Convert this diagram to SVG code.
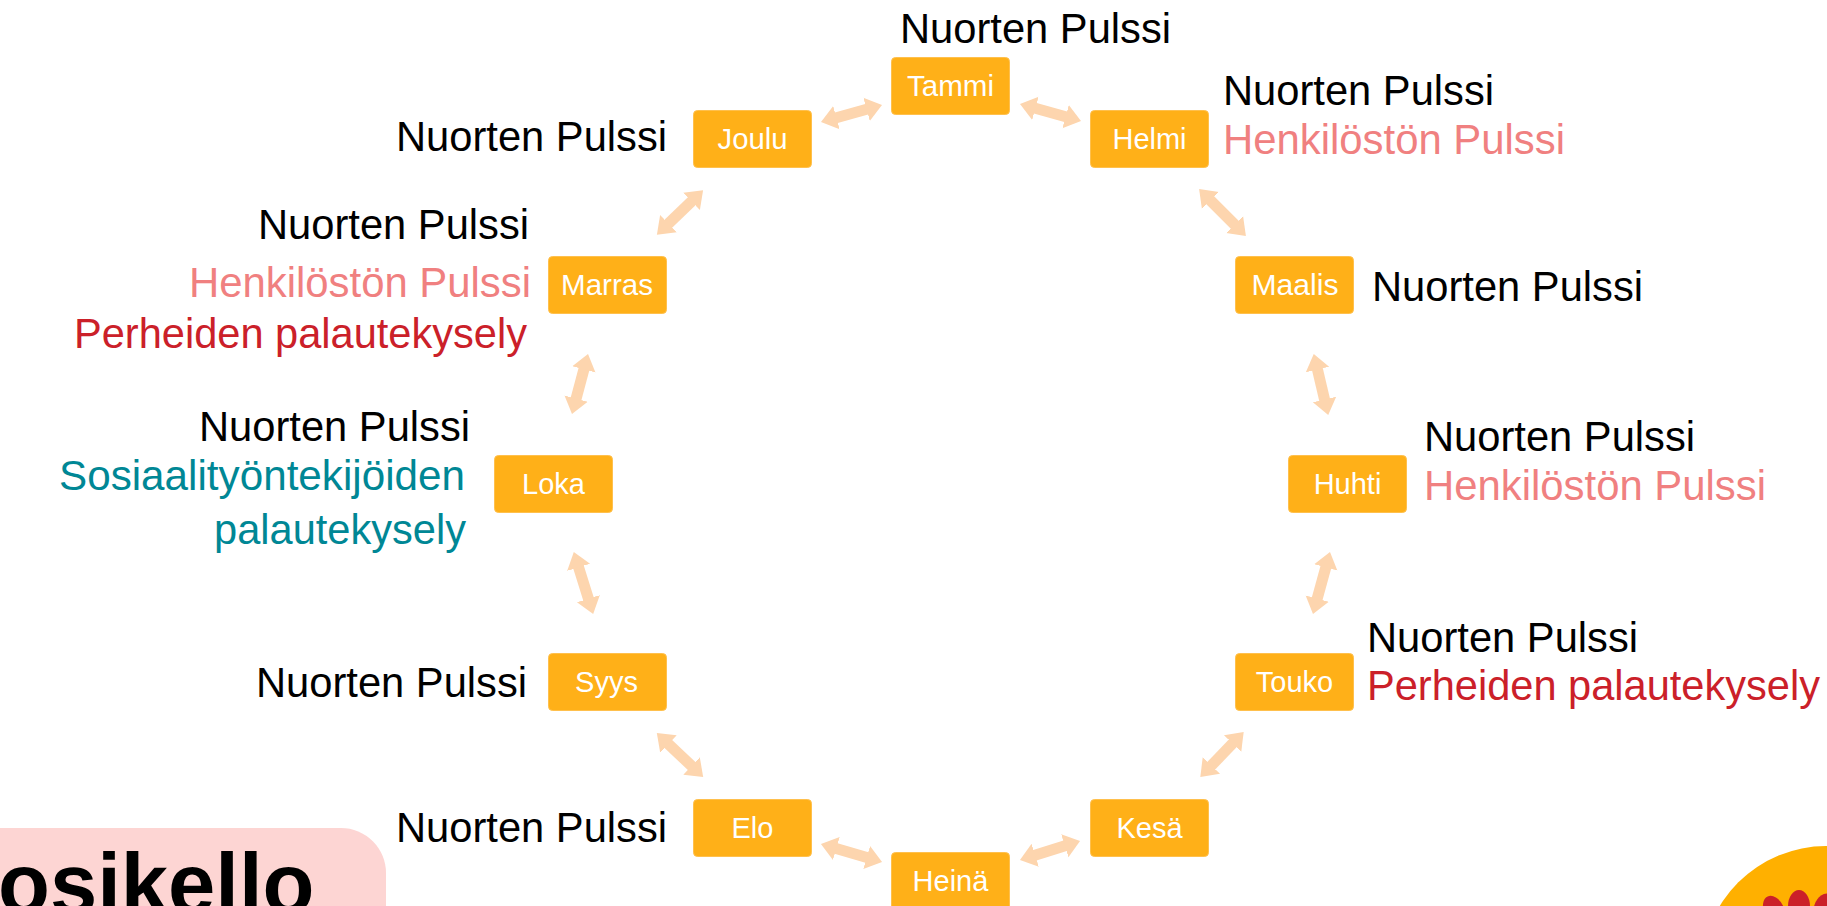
<svg xmlns="http://www.w3.org/2000/svg" width="1827" height="906" viewBox="0 0 1827 906">
<style>
.box{fill:#FFB018;stroke:#FFC04D;stroke-width:1}
.lab{font:29px "Liberation Sans",Arial,sans-serif;fill:#fff;text-anchor:middle}
.t{font-family:"Liberation Sans",Arial,sans-serif;font-size:42px}
.k{fill:#000}.p{fill:#F08080}.r{fill:#CB2029}.g{fill:#008795}
#conn line{stroke:#FDD5AE;stroke-width:11;marker-start:url(#h);marker-end:url(#h)}
</style>
<defs><marker id="h" markerUnits="userSpaceOnUse" markerWidth="18" markerHeight="26" refX="2" refY="13" orient="auto-start-reverse"><path d="M0 1L16 13L0 25Z" fill="#FDD5AE"/></marker></defs>
<rect width="1827" height="906" fill="#fff"/>
<g id="conn">
<line x1="834.5" y1="118.2" x2="868.5" y2="108.8"/>
<line x1="1033.5" y1="107.8" x2="1067.5" y2="117.2"/>
<line x1="1209" y1="199" x2="1236" y2="226"/>
<line x1="1317" y1="367.6" x2="1325" y2="401.4"/>
<line x1="1326.3" y1="565.5" x2="1316.7" y2="600.5"/>
<line x1="1234" y1="742" x2="1210" y2="767"/>
<line x1="1066.7" y1="845.2" x2="1033.3" y2="855.8"/>
<line x1="868.6" y1="858" x2="834.4" y2="848"/>
<line x1="693" y1="767.3" x2="667" y2="742.7"/>
<line x1="589" y1="600.6" x2="578" y2="565.4"/>
<line x1="575.6" y1="400.5" x2="584.4" y2="367.5"/>
<line x1="667" y1="225" x2="693" y2="200"/>
</g>
<g id="tammi"><rect class="box" x="891.5" y="57.5" width="118" height="57" rx="4"/><text class="lab" x="950.5" y="96" textLength="87" lengthAdjust="spacingAndGlyphs">Tammi</text><text class="t k" x="900" y="43" textLength="271" lengthAdjust="spacingAndGlyphs">Nuorten Pulssi</text></g>
<g id="helmi"><rect class="box" x="1090.5" y="110.5" width="118" height="57" rx="4"/><text class="lab" x="1149.5" y="149">Helmi</text><text class="t k" x="1223" y="105" textLength="271" lengthAdjust="spacingAndGlyphs">Nuorten Pulssi</text><text class="t p" x="1223" y="154" textLength="342" lengthAdjust="spacingAndGlyphs">Henkilöstön Pulssi</text></g>
<g id="maalis"><rect class="box" x="1235.5" y="256.5" width="118" height="57" rx="4"/><text class="lab" x="1295" y="295" textLength="87" lengthAdjust="spacingAndGlyphs">Maalis</text><text class="t k" x="1372" y="301" textLength="271" lengthAdjust="spacingAndGlyphs">Nuorten Pulssi</text></g>
<g id="huhti"><rect class="box" x="1288.5" y="455.5" width="118" height="57" rx="4"/><text class="lab" x="1347.5" y="494">Huhti</text><text class="t k" x="1424" y="451" textLength="271" lengthAdjust="spacingAndGlyphs">Nuorten Pulssi</text><text class="t p" x="1424" y="500" textLength="342" lengthAdjust="spacingAndGlyphs">Henkilöstön Pulssi</text></g>
<g id="touko"><rect class="box" x="1235.5" y="653.5" width="118" height="57" rx="4"/><text class="lab" x="1294.5" y="692">Touko</text><text class="t k" x="1367" y="652" textLength="271" lengthAdjust="spacingAndGlyphs">Nuorten Pulssi</text><text class="t r" x="1367" y="700" textLength="453" lengthAdjust="spacingAndGlyphs">Perheiden palautekysely</text></g>
<g id="kesa"><rect class="box" x="1090.5" y="799.5" width="118" height="57" rx="4"/><text class="lab" x="1149.5" y="838">Kesä</text></g>
<g id="heina"><rect class="box" x="891.5" y="852.5" width="118" height="60" rx="4"/><text class="lab" x="950.5" y="891">Heinä</text></g>
<g id="elo"><rect class="box" x="693.5" y="799.5" width="118" height="57" rx="4"/><text class="lab" x="752.5" y="838">Elo</text><text class="t k" x="396" y="842" textLength="271" lengthAdjust="spacingAndGlyphs">Nuorten Pulssi</text></g>
<g id="syys"><rect class="box" x="548.5" y="653.5" width="118" height="57" rx="4"/><text class="lab" x="606.5" y="692">Syys</text><text class="t k" x="256" y="697" textLength="271" lengthAdjust="spacingAndGlyphs">Nuorten Pulssi</text></g>
<g id="loka"><rect class="box" x="494.5" y="455.5" width="118" height="57" rx="4"/><text class="lab" x="553.5" y="494">Loka</text><text class="t k" x="199" y="441" textLength="271" lengthAdjust="spacingAndGlyphs">Nuorten Pulssi</text><text class="t g" x="59" y="490" textLength="406" lengthAdjust="spacingAndGlyphs">Sosiaalityöntekijöiden</text><text class="t g" x="214" y="544" textLength="252" lengthAdjust="spacingAndGlyphs">palautekysely</text></g>
<g id="marras"><rect class="box" x="548.5" y="256.5" width="118" height="57" rx="4"/><text class="lab" x="607" y="295" textLength="92" lengthAdjust="spacingAndGlyphs">Marras</text><text class="t k" x="258" y="239" textLength="271" lengthAdjust="spacingAndGlyphs">Nuorten Pulssi</text><text class="t p" x="189" y="297" textLength="342" lengthAdjust="spacingAndGlyphs">Henkilöstön Pulssi</text><text class="t r" x="74" y="348" textLength="453" lengthAdjust="spacingAndGlyphs">Perheiden palautekysely</text></g>
<g id="joulu"><rect class="box" x="693.5" y="110.5" width="118" height="57" rx="4"/><text class="lab" x="752.5" y="149" textLength="70" lengthAdjust="spacingAndGlyphs">Joulu</text><text class="t k" x="396" y="151" textLength="271" lengthAdjust="spacingAndGlyphs">Nuorten Pulssi</text></g>
<g id="title"><rect x="-60" y="828" width="446" height="140" rx="45" fill="#FDD5D3"/><text x="-2" y="913" font-family="Liberation Sans,Arial,sans-serif" font-weight="700" font-size="85" fill="#000">osikello</text></g>
<g id="logo"><circle cx="1826" cy="970" r="124" fill="#FFB000"/><ellipse cx="1799" cy="906" rx="11" ry="16" fill="#CB2029"/><ellipse cx="1774" cy="910" rx="10" ry="15" transform="rotate(-25 1774 910)" fill="#CB2029"/><ellipse cx="1824" cy="908" rx="10" ry="15" transform="rotate(20 1824 908)" fill="#CB2029"/></g>
</svg>
